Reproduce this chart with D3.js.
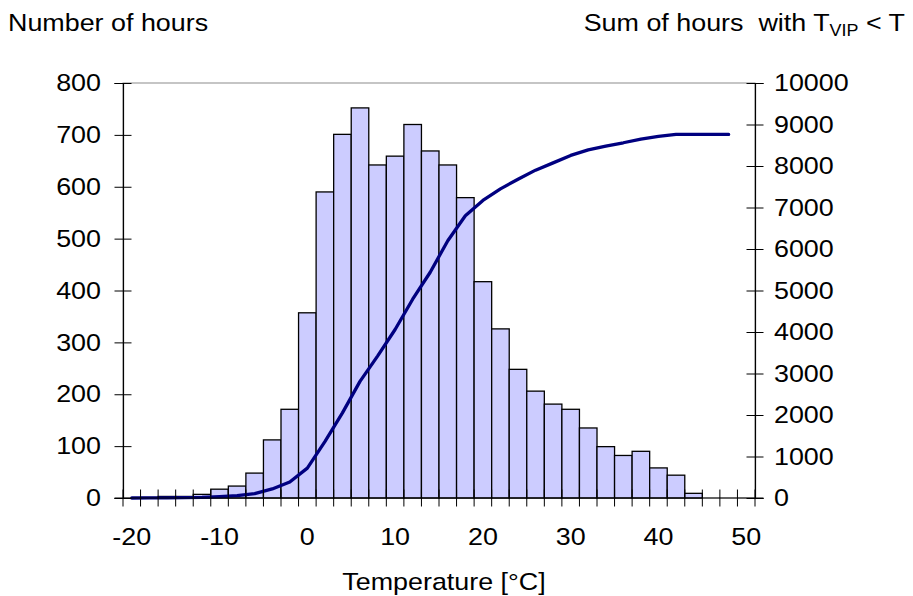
<!DOCTYPE html>
<html>
<head>
<meta charset="utf-8">
<script src="https://cdn.jsdelivr.net/npm/d3@7/dist/d3.min.js"></script>
<style>
  html, body { margin: 0; padding: 0; background: #fff; }
  svg text { font-family: "Liberation Sans", Arial, sans-serif; fill: #000; }
</style>
</head>
<body>
<svg id="chart" width="913" height="596"></svg>
<script>
// Temperature classes (°C), one bar per 2-degree class
const categories = [-20, -18, -16, -14, -12, -10, -8, -6, -4, -2, 0, 2, 4, 6, 8, 10, 12, 14,
                    16, 18, 20, 22, 24, 26, 28, 30, 32, 34, 36, 38, 40, 42, 44, 46, 48, 50];

// Number of hours in each class (left axis)
const hours = [0, 1, 3, 3, 7, 17, 23, 48, 112, 171, 357, 590, 701, 752, 642, 659, 720, 669,
               642, 579, 417, 326, 248, 206, 181, 171, 135, 99, 82, 90, 58, 44, 9, null, null, null];

// Cumulative hours below each class (right axis)
const cumulative = [0, 2, 5, 10, 17, 35, 58, 106, 218, 385, 720, 1360, 2050, 2810, 3420, 4060, 4790, 5440,
                    6200, 6800, 7170, 7450, 7680, 7900, 8075, 8255, 8390, 8480, 8560, 8650, 8715, 8760, 8762, 8762, 8762, null];

// Axis ticks
const xLabels = [-20, -10, 0, 10, 20, 30, 40, 50];
const leftTicks = [0, 100, 200, 300, 400, 500, 600, 700, 800];
const rightTicks = [0, 1000, 2000, 3000, 4000, 5000, 6000, 7000, 8000, 9000, 10000];

const svg = d3.select("#chart");
const plot = { left: 123, right: 755, top: 83, bottom: 498 };
const fontSize = 24;
const sx = 1.12;            // wide-set lettering
const fontFamily = '"Liberation Sans", Arial, sans-serif';

const x = d3.scaleBand().domain(categories).range([plot.left, plot.right]).padding(0);
const y = d3.scaleLinear().domain([0, 800]).range([plot.bottom, plot.top]);
const y2 = d3.scaleLinear().domain([0, 10000]).range([plot.bottom, plot.top]);

// plot-area frame (grey)
svg.append("rect")
  .attr("x", plot.left).attr("y", plot.top)
  .attr("width", plot.right - plot.left).attr("height", plot.bottom - plot.top)
  .attr("fill", "none").attr("stroke", "#8c8c8c").attr("stroke-width", 1);

// histogram bars
const barData = categories.map((c, i) => ({ c, v: hours[i] })).filter(d => d.v !== null);
svg.append("g").selectAll("rect").data(barData).join("rect")
  .attr("x", d => x(d.c))
  .attr("y", d => y(d.v))
  .attr("width", x.bandwidth())
  .attr("height", d => y(0) - y(d.v))
  .attr("fill", "#ccccff")
  .attr("stroke", "#000")
  .attr("stroke-width", 1.3);

// cumulative line
const lineData = categories.map((c, i) => ({ c, v: cumulative[i] })).filter(d => d.v !== null);
svg.append("path")
  .datum(lineData)
  .attr("fill", "none")
  .attr("stroke", "#000080")
  .attr("stroke-width", 3.3)
  .attr("stroke-linejoin", "round")
  .attr("stroke-linecap", "round")
  .attr("d", d3.line().x(d => x(d.c) + x.bandwidth() / 2).y(d => y2(d.v)));

// left axis
const gl = svg.append("g")
  .attr("transform", `translate(${plot.left},0)`)
  .call(d3.axisLeft(y).tickValues(leftTicks).tickSize(8.5).tickFormat(d3.format("d")));
gl.selectAll(".tick line").attr("x1", -8.5).attr("x2", 8.5);
gl.selectAll(".tick text").attr("x", -22 / sx);

// right axis
const gr = svg.append("g")
  .attr("transform", `translate(${plot.right},0)`)
  .call(d3.axisRight(y2).tickValues(rightTicks).tickSize(8.5).tickFormat(d3.format("d")));
gr.selectAll(".tick line").attr("x1", -8.5).attr("x2", 8.5);
gr.selectAll(".tick text").attr("x", 19 / sx);

// bottom axis: labels centred on classes
const gb = svg.append("g")
  .attr("transform", `translate(0,${plot.bottom})`)
  .call(d3.axisBottom(x).tickValues(xLabels).tickSize(0).tickPadding(30));

// bottom axis: crossing ticks at class boundaries
const bounds = categories.map(c => x(c)).concat([x.range()[1]]);
svg.append("g").selectAll("line").data(bounds).join("line")
  .attr("x1", d => d).attr("x2", d => d)
  .attr("y1", plot.bottom - 8.5).attr("y2", plot.bottom + 8.5)
  .attr("stroke", "#000").attr("stroke-width", 1);

// shared axis styling
[gl, gr, gb].forEach(g => {
  g.selectAll(".domain").attr("stroke", "#000").attr("stroke-width", 1.2);
  g.selectAll(".tick line").attr("stroke", "#000");
  g.selectAll(".tick text")
    .style("font-size", fontSize + "px")
    .style("font-family", fontFamily)
    .attr("transform", `scale(${sx},1)`);
});
gb.select(".domain").attr("d", `M${plot.left - 8.5},0H${plot.right + 8.5}`);

// free text, stretched horizontally about its anchor point
function label(px, py, anchor) {
  return svg.append("text")
    .attr("x", px).attr("y", py)
    .attr("text-anchor", anchor)
    .attr("transform", `translate(${px},${py}) scale(${sx},1) translate(${-px},${-py})`)
    .style("font-size", fontSize + "px")
    .style("font-family", fontFamily);
}

// axis titles
label(8, 31, "start").text("Number of hours");

const rt = label(905, 31, "end").attr("xml:space", "preserve");
rt.append("tspan").text("Sum of hours  with T");
rt.append("tspan").attr("dy", 5).style("font-size", "16px").text("VIP");
rt.append("tspan").attr("dy", -5).text(" < T");

label(444, 590, "middle").text("Temperature [°C]");
</script>
</body>
</html>
